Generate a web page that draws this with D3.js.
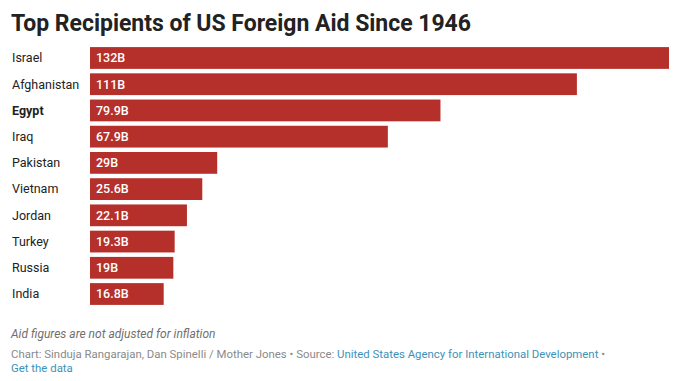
<!DOCTYPE html>
<html>
<head>
<meta charset="utf-8">
<script src="https://cdn.jsdelivr.net/npm/d3@7"></script>
<style>
  body { margin: 0; background: #fff; font-family: Roboto, "Noto Sans", sans-serif; }
</style>
</head>
<body>
<div id="chart"></div>
<script>
var countries = ["Israel", "Afghanistan", "Egypt", "Iraq", "Pakistan", "Vietnam", "Jordan", "Turkey", "Russia", "India"];
var aid = [132, 111, 79.9, 67.9, 29, 25.6, 22.1, 19.3, 19, 16.8];
var valueLabels = ["132B", "111B", "79.9B", "67.9B", "29B", "25.6B", "22.1B", "19.3B", "19B", "16.8B"];

var svgWidth = 678;
var svgHeight = 381;

var margin = { top: 45, right: 9, left: 90 };
var width = svgWidth - margin.left - margin.right;

var data = countries.map(function(c, i) {
  return { country: c, value: aid[i], label: valueLabels[i] };
});

var svg = d3.select("#chart")
  .append("svg")
  .attr("width", svgWidth)
  .attr("height", svgHeight);

// title
svg.append("text")
  .attr("x", 11)
  .attr("y", 31)
  .attr("font-size", "23px")
  .attr("font-weight", "bold")
  .attr("fill", "#222")
  .attr("textLength", 460)
  .text("Top Recipients of US Foreign Aid Since 1946");

var xScale = d3.scaleLinear()
  .domain([0, 132])
  .range([0, width]);

var yScale = d3.scaleBand()
  .domain(countries)
  .range([margin.top, margin.top + 26.2 * countries.length])
  .paddingInner(0.17)
  .paddingOuter(0.08);

var rows = svg.append("g")
  .selectAll("g")
  .data(data)
  .enter()
  .append("g");

rows.append("rect")
  .attr("x", margin.left)
  .attr("y", d => yScale(d.country))
  .attr("width", d => xScale(d.value))
  .attr("height", yScale.bandwidth())
  .attr("fill", "#b5302b");

rows.append("text")
  .attr("x", 12)
  .attr("y", d => yScale(d.country) + yScale.bandwidth() / 2)
  .attr("dy", "0.35em")
  .attr("font-size", "12.5px")
  .attr("font-weight", d => d.country === "Egypt" ? "bold" : "normal")
  .attr("fill", "#222")
  .text(d => d.country);

rows.append("text")
  .attr("x", margin.left + 6)
  .attr("y", d => yScale(d.country) + yScale.bandwidth() / 2)
  .attr("dy", "0.35em")
  .attr("font-size", "12.5px")
  .attr("font-weight", "500")
  .attr("fill", "#fff")
  .text(d => d.label);

// notes
svg.append("text")
  .attr("x", 11)
  .attr("y", 338)
  .attr("font-size", "12px")
  .attr("font-style", "italic")
  .attr("fill", "#6f6f6f")
  .text("Aid figures are not adjusted for inflation");

var credit = svg.append("text")
  .attr("x", 11)
  .attr("y", 358)
  .attr("font-size", "11.4px")
  .attr("fill", "#8a8a8a");
credit.append("tspan").text("Chart: Sinduja Rangarajan, Dan Spinelli / Mother Jones \u2022 Source: ");
credit.append("tspan").attr("fill", "#3d92b8").text("United States Agency for International Development");
credit.append("tspan").text(" \u2022");

svg.append("text")
  .attr("x", 11)
  .attr("y", 372)
  .attr("font-size", "11.4px")
  .attr("fill", "#3d92b8")
  .text("Get the data");
</script>
</body>
</html>
